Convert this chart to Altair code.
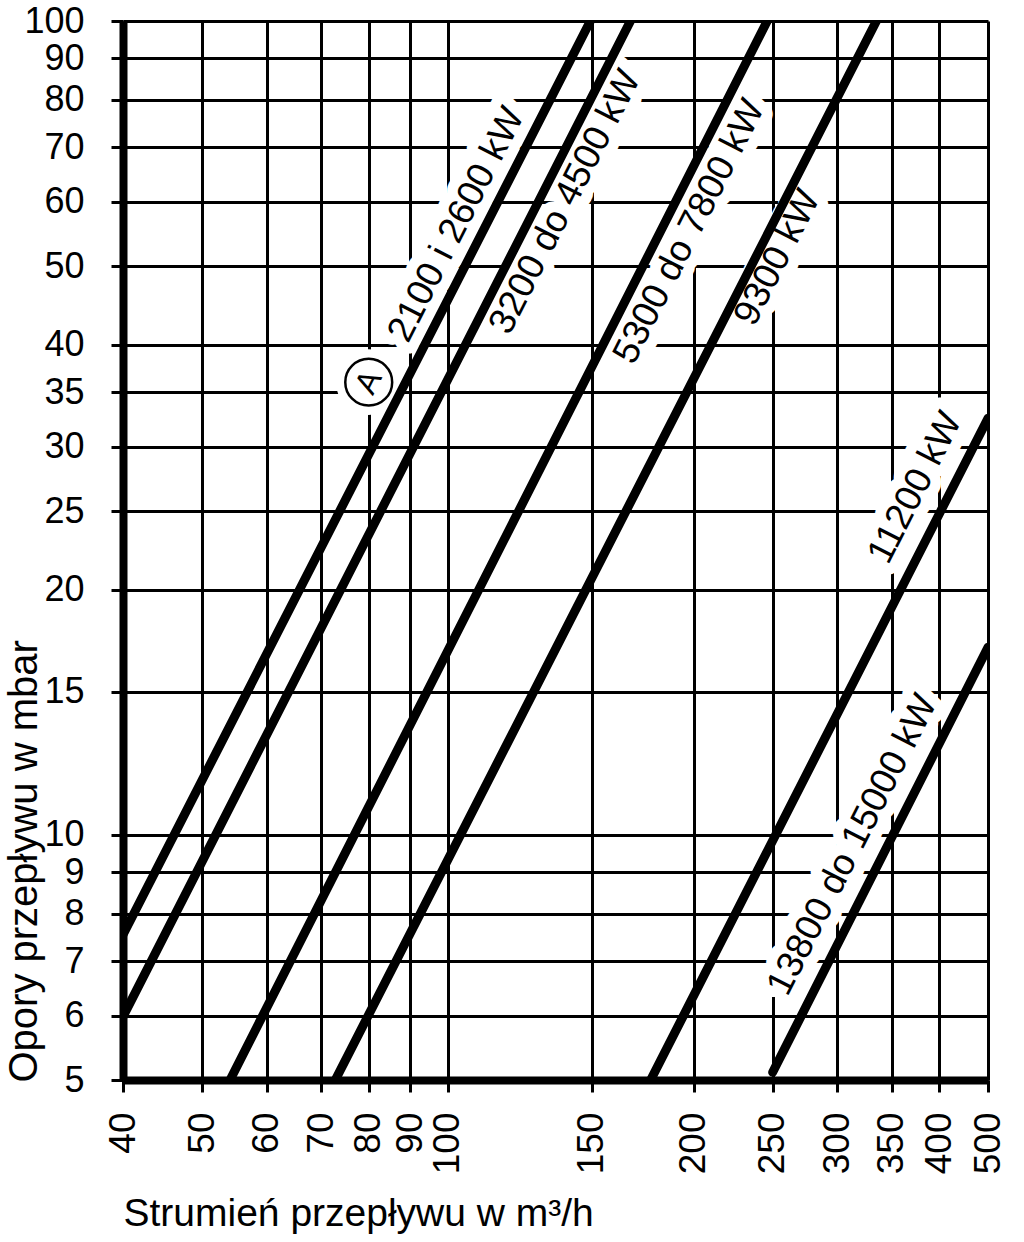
import altair as alt
import pandas as pd

FONT = "Liberation Sans"

# ---- data ----
series_names = ["2100 i 2600 kW", "3200 do 4500 kW", "5300 do 7800 kW",
                "9300 kW", "11200 kW", "13800 do 15000 kW"]
line_x_start = [40, 40, 54.1, 72.8, 177.2, 250]
line_y_start = [7.54, 5.98, 5.0, 5.0, 5.0, 5.11]
line_x_end = [149.5, 167.4, 246.2, 335.0, 500, 500]
line_y_end = [100, 100, 100, 100, 32.5, 17.0]

label_x = [102.5, 139.3, 197.7, 253.5, 374.0, 313.3]
label_y = [56.2, 59.9, 55.1, 51.2, 26.7, 9.72]

marker_text = ["A"]
marker_x = [80]
marker_y = [36]

x_ticks = [40, 50, 60, 70, 80, 90, 100, 150, 200, 250, 300, 350, 400, 500]
y_ticks = [5, 6, 7, 8, 9, 10, 15, 20, 25, 30, 35, 40, 50, 60, 70, 80, 90, 100]

x_title = "Strumień przepływu w m³/h"
y_title = "Opory przepływu w mbar"

# ---- tables ----
rows = []
for i, s in enumerate(series_names):
    rows.append({"series": s, "x": line_x_start[i], "y": line_y_start[i], "o": 0})
    rows.append({"series": s, "x": line_x_end[i], "y": line_y_end[i], "o": 1})
lines_df = pd.DataFrame(rows)
labels_df = pd.DataFrame({"text": series_names, "x": label_x, "y": label_y})
marker_df = pd.DataFrame({"text": marker_text, "x": marker_x, "y": marker_y})

W, H = 865, 1059
xscale = alt.Scale(type="log", domain=[40, 400, 500], range=[0, 816.3, W], nice=False)
yscale = alt.Scale(type="log", domain=[5, 100], nice=False)

xaxis = alt.Axis(values=x_ticks, format="d", labelAngle=270, labelFontSize=37,
                 labelPadding=20, tickSize=12, tickWidth=3, tickColor="black",
                 grid=True, gridColor="black", gridWidth=3, gridOpacity=1,
                 domainColor="black", domainWidth=8, labelOverlap=False,
                 labelFlush=False, labelBound=False, labelColor="black",
                 labelFont=FONT, title=x_title, titleFont=FONT, titleFontSize=39,
                 titleFontWeight="normal", titleColor="black", titleAngle=0,
                 titleAlign="left", titleBaseline="alphabetic", titleX=0, titleY=145)
yaxis = alt.Axis(values=y_ticks, format="d", labelFontSize=36, labelPadding=27,
                 tickSize=12, tickWidth=3, tickColor="black",
                 grid=True, gridColor="black", gridWidth=3, gridOpacity=1,
                 domainColor="black", domainWidth=8, labelOverlap=False,
                 labelFlush=False, labelBound=False, labelColor="black",
                 labelFont=FONT, title=y_title, titleFont=FONT, titleFontSize=40,
                 titleFontWeight="normal", titleColor="black", titleAngle=270,
                 titleAlign="left", titleBaseline="alphabetic", titleX=-87, titleY=H + 2)


def X():
    return alt.X("x:Q", scale=xscale, axis=xaxis)


def Y():
    return alt.Y("y:Q", scale=yscale, axis=yaxis)


ANG = 297

halo_text = alt.Chart(labels_df).mark_text(
    font=FONT, fontSize=37, angle=ANG, color="white", stroke="white",
    strokeWidth=22, strokeJoin="round", align="center", baseline="middle"
).encode(x=X(), y=Y(), text="text:N")

halo_circle = alt.Chart(marker_df).mark_point(
    shape="circle", size=4300, filled=True, color="white", opacity=1
).encode(x=X(), y=Y())

lines = alt.Chart(lines_df).mark_line(
    color="black", strokeWidth=9, strokeCap="round", clip=True
).encode(x=X(), y=Y(), detail="series:N", order="o:Q")

text = alt.Chart(labels_df).mark_text(
    font=FONT, fontSize=37, angle=ANG, color="black", align="center", baseline="middle"
).encode(x=X(), y=Y(), text="text:N")

circle = alt.Chart(marker_df).mark_point(
    shape="circle", size=2200, filled=False, color="black", strokeWidth=2.5,
    fill="white", fillOpacity=1, opacity=1
).encode(x=X(), y=Y())

marker_letter = alt.Chart(marker_df).mark_text(
    font=FONT, fontSize=32, angle=ANG, color="black", align="center", baseline="middle"
).encode(x=X(), y=Y(), text="text:N")

chart = alt.layer(halo_text, halo_circle, lines, text, circle, marker_letter).properties(
    width=W, height=H,
    autosize=alt.AutoSizeParams(type="none"),
    padding={"left": 123, "top": 21, "right": 36, "bottom": 162},
).configure_view(stroke="black", strokeWidth=8).configure(background="white")

chart.save("out.html", embed_options={"renderer": "svg", "actions": False})
